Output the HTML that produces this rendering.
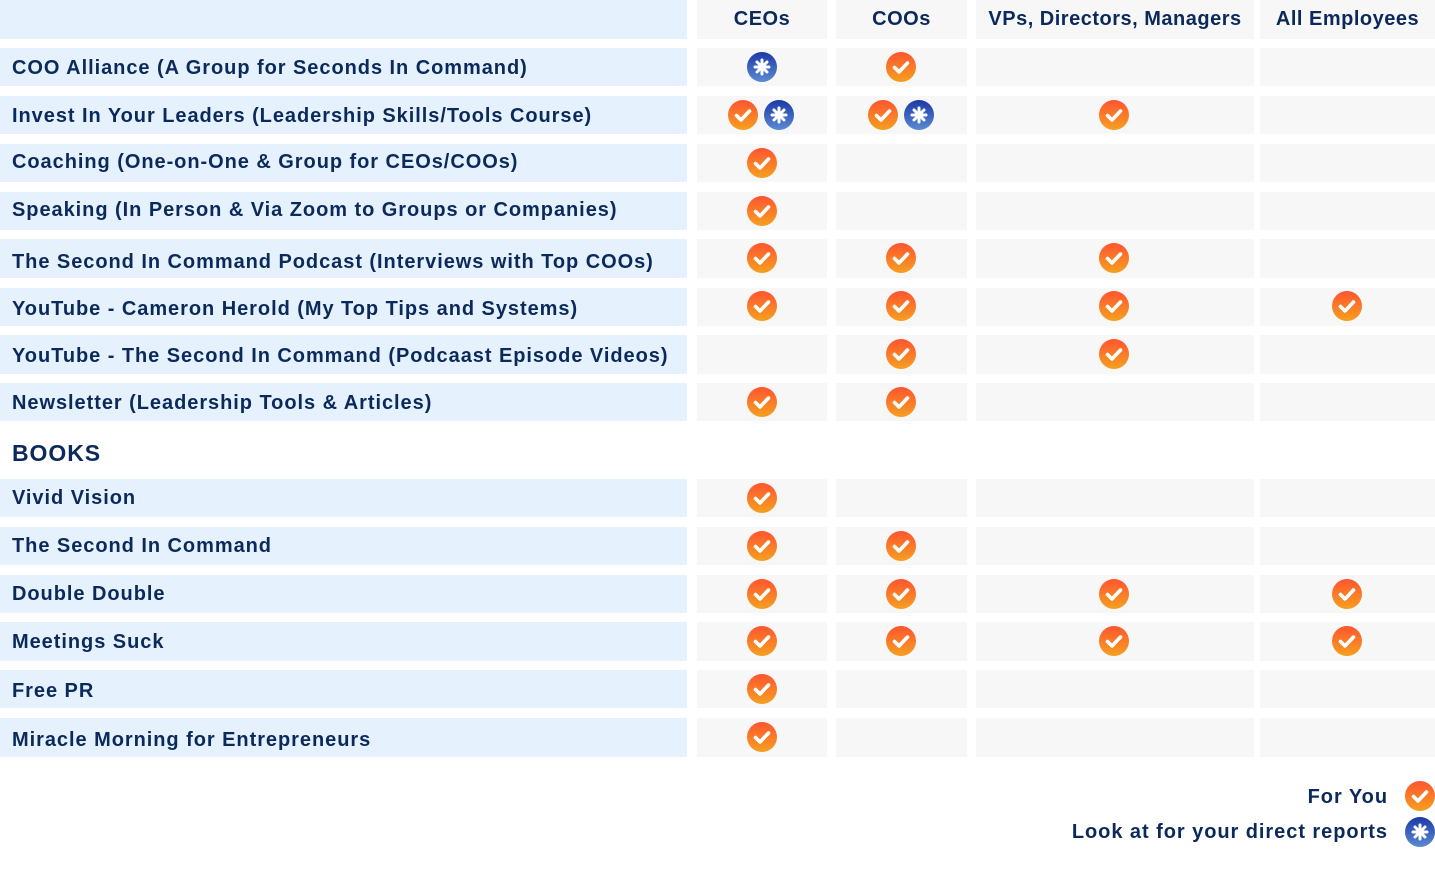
<!DOCTYPE html>
<html><head><meta charset="utf-8"><style>
body{margin:0;width:1435px;height:895px;background:#fff;position:relative;overflow:hidden;font-family:"Liberation Sans",sans-serif;font-weight:bold;color:#0b2a5b}
.r{position:absolute;height:38px}
.l{left:0;width:687px;background:#e5f1fd}
.c1{left:697px;width:130px;background:#f7f7f7}
.c2{left:836px;width:131px;background:#f7f7f7}
.c3{left:976px;width:278px;background:#f7f7f7}
.c4{left:1260px;width:175px;background:#f7f7f7}
.t{position:absolute;left:12px;font-size:20px;letter-spacing:0.95px;white-space:nowrap;line-height:1}
.h{position:absolute;top:0;height:39px;font-size:20px;line-height:39px;text-align:center;letter-spacing:0.5px}
.i{position:absolute;width:30px;height:30px}
</style></head><body>
<svg width="0" height="0" style="position:absolute"><defs>
<linearGradient id="go" x1="0" y1="0" x2="0" y2="1"><stop offset="0" stop-color="#ff5530"/><stop offset="1" stop-color="#f5a020"/></linearGradient>
<linearGradient id="gb" x1="0" y1="0" x2="0" y2="1"><stop offset="0" stop-color="#1c39a6"/><stop offset="1" stop-color="#5b8bd2"/></linearGradient>
<symbol id="ck" viewBox="0 0 30 30"><circle cx="15" cy="15" r="15" fill="url(#go)"/><path d="M8.5 15.5l4.5 4.5 8.5-9" stroke="#fff" stroke-width="3.6" fill="none" stroke-linecap="round" stroke-linejoin="round"/></symbol>
<symbol id="as" viewBox="0 0 30 30"><circle cx="15" cy="15" r="15" fill="url(#gb)"/><g stroke="#fff" stroke-width="3" stroke-linecap="round"><path d="M15 8v14M8 15h14M10 10l10 10M20 10l-10 10"/></g></symbol>
</defs></svg>

<div class="r l" style="top:0;height:39px"></div>
<div class="r c1 h" style="top:0;height:39px">CEOs</div>
<div class="r c2 h" style="top:0;height:39px">COOs</div>
<div class="r c3 h" style="top:0;height:39px">VPs, Directors, Managers</div>
<div class="r c4 h" style="top:0;height:39px">All Employees</div>

<div class="r l" style="top:48px"></div><div class="r c1" style="top:48px"></div><div class="r c2" style="top:48px"></div><div class="r c3" style="top:48px"></div><div class="r c4" style="top:48px"></div>
<div class="t" style="top:58px">COO Alliance (A Group for Seconds In Command)</div>
<div class="r l" style="top:96px"></div><div class="r c1" style="top:96px"></div><div class="r c2" style="top:96px"></div><div class="r c3" style="top:96px"></div><div class="r c4" style="top:96px"></div>
<div class="t" style="top:106px">Invest In Your Leaders (Leadership Skills/Tools Course)</div>
<div class="r l" style="top:144px"></div><div class="r c1" style="top:144px"></div><div class="r c2" style="top:144px"></div><div class="r c3" style="top:144px"></div><div class="r c4" style="top:144px"></div>
<div class="t" style="top:152px">Coaching (One-on-One &amp; Group for CEOs/COOs)</div>
<div class="r l" style="top:192px"></div><div class="r c1" style="top:192px"></div><div class="r c2" style="top:192px"></div><div class="r c3" style="top:192px"></div><div class="r c4" style="top:192px"></div>
<div class="t" style="top:200px">Speaking (In Person &amp; Via Zoom to Groups or Companies)</div>
<div class="r l" style="top:239px;height:39px"></div><div class="r c1" style="top:239px;height:39px"></div><div class="r c2" style="top:239px;height:39px"></div><div class="r c3" style="top:239px;height:39px"></div><div class="r c4" style="top:239px;height:39px"></div>
<div class="t" style="top:252px">The Second In Command Podcast (Interviews with Top COOs)</div>
<div class="r l" style="top:288px"></div><div class="r c1" style="top:288px"></div><div class="r c2" style="top:288px"></div><div class="r c3" style="top:288px"></div><div class="r c4" style="top:288px"></div>
<div class="t" style="top:299px">YouTube - Cameron Herold (My Top Tips and Systems)</div>
<div class="r l" style="top:335px;height:39px"></div><div class="r c1" style="top:335px;height:39px"></div><div class="r c2" style="top:335px;height:39px"></div><div class="r c3" style="top:335px;height:39px"></div><div class="r c4" style="top:335px;height:39px"></div>
<div class="t" style="top:346px">YouTube - The Second In Command (Podcaast Episode Videos)</div>
<div class="r l" style="top:383px"></div><div class="r c1" style="top:383px"></div><div class="r c2" style="top:383px"></div><div class="r c3" style="top:383px"></div><div class="r c4" style="top:383px"></div>
<div class="t" style="top:393px">Newsletter (Leadership Tools &amp; Articles)</div>

<div class="t" style="top:442px;font-size:23px">BOOKS</div>

<div class="r l" style="top:479px"></div><div class="r c1" style="top:479px"></div><div class="r c2" style="top:479px"></div><div class="r c3" style="top:479px"></div><div class="r c4" style="top:479px"></div>
<div class="t" style="top:488px">Vivid Vision</div>
<div class="r l" style="top:527px"></div><div class="r c1" style="top:527px"></div><div class="r c2" style="top:527px"></div><div class="r c3" style="top:527px"></div><div class="r c4" style="top:527px"></div>
<div class="t" style="top:536px">The Second In Command</div>
<div class="r l" style="top:575px"></div><div class="r c1" style="top:575px"></div><div class="r c2" style="top:575px"></div><div class="r c3" style="top:575px"></div><div class="r c4" style="top:575px"></div>
<div class="t" style="top:584px">Double Double</div>
<div class="r l" style="top:622px;height:39px"></div><div class="r c1" style="top:622px;height:39px"></div><div class="r c2" style="top:622px;height:39px"></div><div class="r c3" style="top:622px;height:39px"></div><div class="r c4" style="top:622px;height:39px"></div>
<div class="t" style="top:632px">Meetings Suck</div>
<div class="r l" style="top:670px"></div><div class="r c1" style="top:670px"></div><div class="r c2" style="top:670px"></div><div class="r c3" style="top:670px"></div><div class="r c4" style="top:670px"></div>
<div class="t" style="top:681px">Free PR</div>
<div class="r l" style="top:718px;height:39px"></div><div class="r c1" style="top:718px;height:39px"></div><div class="r c2" style="top:718px;height:39px"></div><div class="r c3" style="top:718px;height:39px"></div><div class="r c4" style="top:718px;height:39px"></div>
<div class="t" style="top:730px">Miracle Morning for Entrepreneurs</div>

<svg class="i" style="left:747px;top:52px"><use href="#as"/></svg>
<svg class="i" style="left:886px;top:52px"><use href="#ck"/></svg>
<svg class="i" style="left:728px;top:100px"><use href="#ck"/></svg>
<svg class="i" style="left:764px;top:100px"><use href="#as"/></svg>
<svg class="i" style="left:868px;top:100px"><use href="#ck"/></svg>
<svg class="i" style="left:904px;top:100px"><use href="#as"/></svg>
<svg class="i" style="left:1099px;top:100px"><use href="#ck"/></svg>
<svg class="i" style="left:747px;top:148px"><use href="#ck"/></svg>
<svg class="i" style="left:747px;top:196px"><use href="#ck"/></svg>
<svg class="i" style="left:747px;top:243px"><use href="#ck"/></svg>
<svg class="i" style="left:886px;top:243px"><use href="#ck"/></svg>
<svg class="i" style="left:1099px;top:243px"><use href="#ck"/></svg>
<svg class="i" style="left:747px;top:291px"><use href="#ck"/></svg>
<svg class="i" style="left:886px;top:291px"><use href="#ck"/></svg>
<svg class="i" style="left:1099px;top:291px"><use href="#ck"/></svg>
<svg class="i" style="left:1332px;top:291px"><use href="#ck"/></svg>
<svg class="i" style="left:886px;top:339px"><use href="#ck"/></svg>
<svg class="i" style="left:1099px;top:339px"><use href="#ck"/></svg>
<svg class="i" style="left:747px;top:387px"><use href="#ck"/></svg>
<svg class="i" style="left:886px;top:387px"><use href="#ck"/></svg>
<svg class="i" style="left:747px;top:483px"><use href="#ck"/></svg>
<svg class="i" style="left:747px;top:531px"><use href="#ck"/></svg>
<svg class="i" style="left:886px;top:531px"><use href="#ck"/></svg>
<svg class="i" style="left:747px;top:579px"><use href="#ck"/></svg>
<svg class="i" style="left:886px;top:579px"><use href="#ck"/></svg>
<svg class="i" style="left:1099px;top:579px"><use href="#ck"/></svg>
<svg class="i" style="left:1332px;top:579px"><use href="#ck"/></svg>
<svg class="i" style="left:747px;top:626px"><use href="#ck"/></svg>
<svg class="i" style="left:886px;top:626px"><use href="#ck"/></svg>
<svg class="i" style="left:1099px;top:626px"><use href="#ck"/></svg>
<svg class="i" style="left:1332px;top:626px"><use href="#ck"/></svg>
<svg class="i" style="left:747px;top:674px"><use href="#ck"/></svg>
<svg class="i" style="left:747px;top:722px"><use href="#ck"/></svg>

<div class="t" style="left:auto;right:47px;top:787px;text-align:right">For You</div>
<div class="t" style="left:auto;right:47px;top:822px;text-align:right">Look at for your direct reports</div>
<svg class="i" style="left:1405px;top:781px"><use href="#ck"/></svg>
<svg class="i" style="left:1405px;top:817px"><use href="#as"/></svg>
</body></html>
